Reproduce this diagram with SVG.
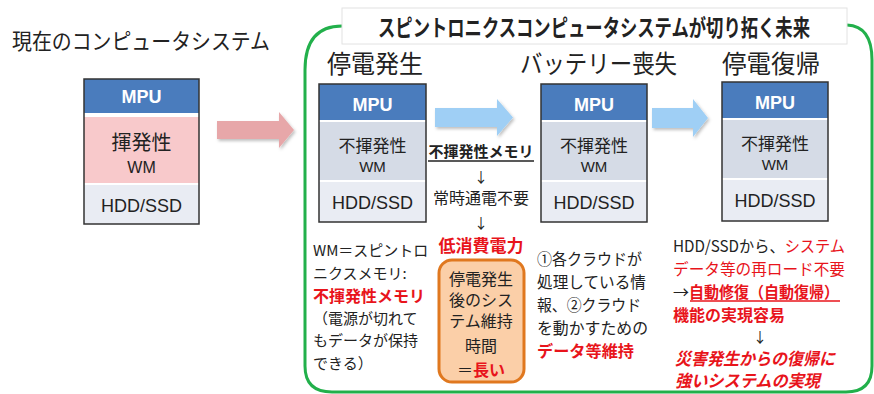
<svg xmlns="http://www.w3.org/2000/svg" width="874" height="394" viewBox="0 0 874 394">
<defs>
<style>
text{font-family:"Noto Sans CJK JP","Liberation Sans",sans-serif;fill:#222}
.lat{font-family:"Liberation Sans","Noto Sans CJK JP",sans-serif}
.mpu{font-family:"Liberation Sans","Noto Sans CJK JP",sans-serif;font-weight:bold;font-size:18px;fill:#fff}
.hdr{font-size:25px;fill:#222}
.b{font-weight:bold}
.r{fill:#e8141b}
.frame{fill:none;stroke:#333;stroke-width:1.5}
.mpuband{fill:#4a7cbd}
.midband{fill:#d5dbe6}
.hddband{fill:#e9ecf3}
.t16{font-size:16px}
.t15{font-size:15px}
.c{text-anchor:middle}
</style>
<filter id="sh" x="-10%" y="-10%" width="130%" height="140%">
<feDropShadow dx="1.5" dy="2" stdDeviation="1.5" flood-color="#000" flood-opacity="0.25"/>
</filter>
</defs>
<rect width="874" height="394" fill="#fff"/>

<!-- green frame -->
<path d="M342,26 Q305,26 305,70 V366 Q305,392 332,392 H846 Q872,392 872,366 V60 Q872,26 847,25" fill="none" stroke="#22b04b" stroke-width="3"/>

<!-- title -->
<g id="title">
<rect x="342" y="8" width="505" height="36" fill="#fff" stroke="#e2e2e2" stroke-width="1"/>
<text x="594" y="36" class="c b" font-size="23" textLength="432" lengthAdjust="spacingAndGlyphs">スピントロニクスコンピュータシステムが切り拓く未来</text>
</g>

<text x="12" y="49" font-size="22" textLength="258" lengthAdjust="spacingAndGlyphs">現在のコンピュータシステム</text>
<text x="327" y="73" class="hdr" textLength="96" lengthAdjust="spacingAndGlyphs">停電発生</text>
<text x="520" y="73" class="hdr" textLength="157" lengthAdjust="spacingAndGlyphs">バッテリー喪失</text>
<text x="722" y="73" class="hdr" textLength="98" lengthAdjust="spacingAndGlyphs">停電復帰</text>

<!-- left box -->
<g id="current">
<rect x="84" y="79" width="115" height="145" fill="#fff"/>
<rect x="84" y="79" width="115" height="34" class="mpuband"/>
<rect x="84" y="117" width="115" height="66" fill="#f8c9cb"/>
<rect x="84" y="185" width="115" height="39" class="hddband"/>
<rect x="84" y="79" width="115" height="145" class="frame"/>
<text x="141.5" y="103" class="mpu c">MPU</text>
<text x="141.5" y="150" class="c" font-size="20">揮発性</text>
<text x="141.5" y="173" class="c lat" font-size="16">WM</text>
<text x="141.5" y="212" class="c lat" font-size="18">HDD/SSD</text>
</g>

<!-- box 1 -->
<g id="box1">
<rect x="319" y="84" width="107" height="138" fill="#fff"/>
<rect x="319" y="84" width="107" height="36" class="mpuband"/>
<rect x="319" y="122" width="107" height="58" class="midband"/>
<rect x="319" y="182" width="107" height="40" class="hddband"/>
<rect x="319" y="84" width="107" height="138" class="frame"/>
<text x="372.5" y="111" class="mpu c">MPU</text>
<text x="372.5" y="152" class="c" font-size="17">不揮発性</text>
<text x="372.5" y="172" class="c lat t15">WM</text>
<text x="372.5" y="209" class="c lat" font-size="18">HDD/SSD</text>
</g>

<!-- box 2 -->
<g id="box2">
<rect x="541" y="84" width="106" height="138" fill="#fff"/>
<rect x="541" y="84" width="106" height="36" class="mpuband"/>
<rect x="541" y="122" width="106" height="58" class="midband"/>
<rect x="541" y="182" width="106" height="40" class="hddband"/>
<rect x="541" y="84" width="106" height="138" class="frame"/>
<text x="594" y="111" class="mpu c">MPU</text>
<text x="594" y="152" class="c" font-size="17">不揮発性</text>
<text x="594" y="172" class="c lat t15">WM</text>
<text x="594" y="209" class="c lat" font-size="18">HDD/SSD</text>
</g>

<!-- box 3 -->
<g id="box3">
<rect x="722" y="82" width="106" height="139" fill="#fff"/>
<rect x="722" y="82" width="106" height="36" class="mpuband"/>
<rect x="722" y="120" width="106" height="58" class="midband"/>
<rect x="722" y="180" width="106" height="41" class="hddband"/>
<rect x="722" y="82" width="106" height="139" class="frame"/>
<text x="775" y="109" class="mpu c">MPU</text>
<text x="775" y="150" class="c" font-size="17">不揮発性</text>
<text x="775" y="170" class="c lat t15">WM</text>
<text x="775" y="207" class="c lat" font-size="18">HDD/SSD</text>
</g>

<!-- connectors -->
<g id="connectors" filter="url(#sh)">
<polygon points="217,121 279,121 279,112 294,130 279,148 279,139 217,139" fill="#e7a7a9"/>
<polygon points="435,108 497,108 497,99 513,117.5 497,136 497,127 435,127" fill="#9fcff5"/>
<polygon points="652,108 693,108 693,99 708,118 693,137 693,128 652,128" fill="#9fcff5"/>
</g>

<!-- middle column -->
<g id="mid">
<text x="481" y="157" class="c b t15">不揮発性メモリ</text>
<line x1="428" y1="161" x2="534" y2="161" stroke="#222" stroke-width="1.3"/>
<text x="481" y="182" class="c" font-size="14">↓</text>
<text x="481" y="204" class="c t16">常時通電不要</text>
<text x="481" y="228" class="c" font-size="14">↓</text>
<text x="481" y="252" class="c b r" font-size="17">低消費電力</text>
<rect x="439" y="260" width="85" height="122" rx="13" fill="#fbcfa8" stroke="#e0781f" stroke-width="3"/>
<text x="481" y="285" class="c t16">停電発生</text>
<text x="481" y="306" class="c t16">後のシス</text>
<text x="481" y="327" class="c t16">テム維持</text>
<text x="481" y="352" class="c t16">時間</text>
<text x="481" y="376" class="c t16">＝<tspan class="b r">長い</tspan></text>
</g>

<!-- left text -->
<g id="wmnote" font-size="15">
<text x="313" y="256">WM＝スピントロ</text>
<text x="313" y="279">ニクスメモリ:</text>
<text x="313" y="302" class="b r" font-size="16">不揮発性メモリ</text>
<text x="313" y="324">（電源が切れて</text>
<text x="313" y="346">もデータが保持</text>
<text x="313" y="369">できる）</text>
</g>

<!-- third column -->
<g id="battery" font-size="16">
<text x="537" y="265" textLength="105" lengthAdjust="spacingAndGlyphs">①各クラウドが</text>
<text x="537" y="288" textLength="109" lengthAdjust="spacingAndGlyphs">処理している情</text>
<text x="537" y="311" textLength="104" lengthAdjust="spacingAndGlyphs">報、②クラウド</text>
<text x="537" y="334" textLength="111" lengthAdjust="spacingAndGlyphs">を動かすための</text>
<text x="537" y="357" class="b r" textLength="97" lengthAdjust="spacingAndGlyphs">データ等維持</text>
</g>

<!-- right column -->
<g id="recovery" font-size="16">
<text x="673" y="252" textLength="172" lengthAdjust="spacingAndGlyphs">HDD/SSDから、<tspan class="r">システム</tspan></text>
<text x="673" y="275" class="r" textLength="172" lengthAdjust="spacingAndGlyphs">データ等の再ロード不要</text>
<text x="673" y="298">→<tspan class="b r" textLength="150" lengthAdjust="spacingAndGlyphs">自動修復（自動復帰）</tspan></text>
<line x1="690" y1="301" x2="840" y2="301" stroke="#e8141b" stroke-width="1.3"/>
<text x="673" y="321" class="b r">機能の実現容易</text>
<text x="760" y="342" class="c" font-size="14">↓</text>
<text x="675" y="365" class="b r" font-style="italic" font-size="17" textLength="160" lengthAdjust="spacingAndGlyphs">災害発生からの復帰に</text>
<text x="675" y="387" class="b r" font-style="italic" font-size="17" textLength="145" lengthAdjust="spacingAndGlyphs">強いシステムの実現</text>
</g>
</svg>
